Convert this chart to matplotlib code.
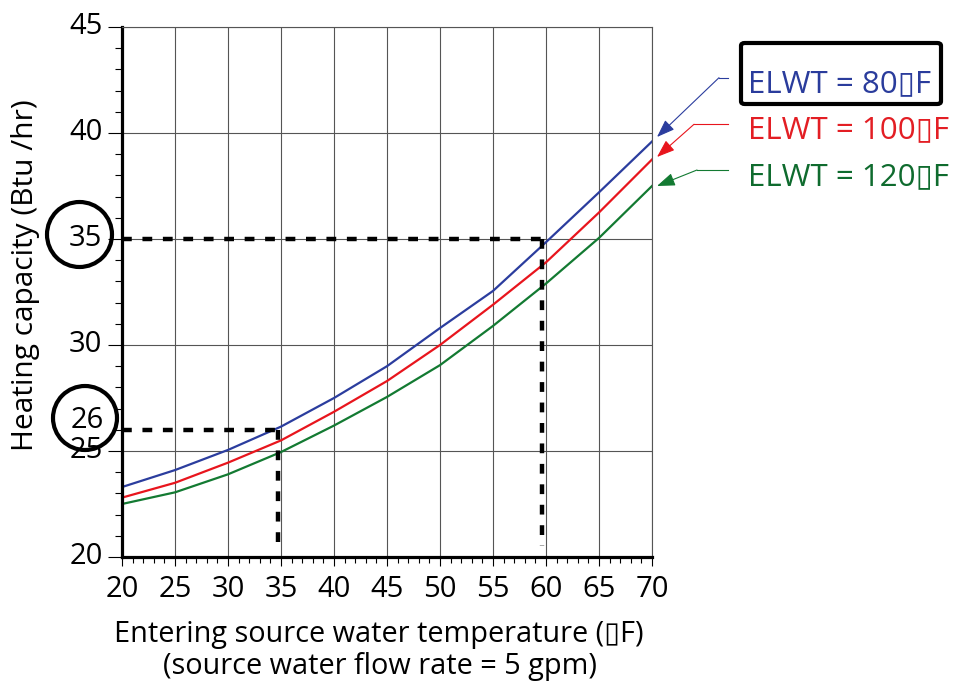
import matplotlib
matplotlib.use('Agg')
import matplotlib.pyplot as plt
from matplotlib.patches import Ellipse, FancyBboxPatch
from matplotlib.transforms import ScaledTranslation

plt.rcParams['font.family'] = ['Open Sans', 'DejaVu Sans']

# data
temps = [20, 25, 30, 35, 40, 45, 50, 55, 60, 65, 70]
cap_80 = [23.3, 24.1, 25.05, 26.15, 27.5, 29.0, 30.8, 32.55, 34.85, 37.2, 39.6]
cap_100 = [22.8, 23.5, 24.45, 25.5, 26.85, 28.3, 30.0, 31.9, 33.9, 36.25, 38.75]
cap_120 = [22.5, 23.05, 23.9, 24.95, 26.2, 27.55, 29.05, 30.9, 32.9, 35.05, 37.5]
labels = ['ELWT = 80\u25afF', 'ELWT = 100\u25afF', 'ELWT = 120\u25afF']
colors = ['#2b3d9e', '#e8151d', '#137a32']
text_colors = ['#2a3c9c', '#e31e24', '#0f6b2e']

# the two worked examples (source temp -> capacity)
example_x = [34.7, 59.6]
example_y = [26, 35]

W, H = 956, 685
fig = plt.figure(figsize=(W / 100, H / 100), dpi=100)
ax = fig.add_axes([122 / W, 128 / H, 530 / W, 530 / H])
ax.set_xlim(20, 70)
ax.set_ylim(20, 45)

ax.set_xticks(range(20, 71, 5))
ax.set_xticks(range(20, 71, 1), minor=True)
ax.set_yticks(range(20, 46, 5))
ax.set_yticks(range(20, 46, 1), minor=True)
ax.grid(which='major', color='#555555', lw=0.8)
ax.set_axisbelow(True)

for s in ['left', 'bottom']:
    ax.spines[s].set_color('black')
    ax.spines[s].set_linewidth(2.3)
for s in ['top', 'right']:
    ax.spines[s].set_color('#555555')
    ax.spines[s].set_linewidth(0.8)

ax.tick_params(axis='y', which='major', length=10, width=0.8, pad=4, labelsize=21)
ax.tick_params(axis='y', which='minor', length=5, width=0.8)
ax.tick_params(axis='x', which='major', length=6.5, width=0.8, pad=6.5, labelsize=21)
ax.tick_params(axis='x', which='minor', length=4.5, width=0.8)
# y labels sit a little above their ticks in the original
for lab in ax.get_yticklabels():
    lab.set_transform(lab.get_transform() + ScaledTranslation(0, 4 / 100, fig.dpi_scale_trans))

for ys, c in zip([cap_80, cap_100, cap_120], colors):
    ax.plot(temps, ys, color=c, lw=1.6)

for ex, ey in zip(example_x, example_y):
    ax.plot([20, ex], [ey, ey], color='black', lw=3.2, dashes=[2.2, 2.4], zorder=3)
    ax.plot([ex, ex], [ey, 20.5], color='black', lw=3.2, dashes=[2.2, 2.4], zorder=3)

# circled values on the y axis
fig.add_artist(Ellipse((79.5 / W, 1 - 234.5 / H), 65 / W, 65 / H,
                       fill=False, ec='black', lw=3))
fig.add_artist(Ellipse((85 / W, 1 - 418 / H), 64 / W, 64 / H,
                       fill=False, ec='black', lw=3))
fig.text(87 / W, 1 - 428 / H, '26', ha='center', va='baseline', fontsize=21)

# axis titles
fig.text(26 / W, 1 - 275 / H, 'Heating capacity (Btu /hr)', rotation=90,
         ha='center', va='center', fontsize=21.5)
fig.text(379 / W, 1 - 642 / H, 'Entering source water temperature (\u25afF)',
         ha='center', va='baseline', fontsize=20.8)
fig.text(380 / W, 1 - 674 / H, '(source water flow rate = 5 gpm)',
         ha='center', va='baseline', fontsize=20.8)

# labels with leader arrows
baselines = [92, 138, 185]
knees = [(719, 77.7), (694, 124.3), (697, 170)]
tips = [(657, 137), (657, 157), (657, 186)]
for lab, tc, c, b, k, t in zip(labels, text_colors, colors, baselines, knees, tips):
    fig.text(748 / W, 1 - b / H, lab, color=tc, fontsize=22.5, va='baseline')
    fig.add_artist(plt.Line2D([k[0] / W, 728 / W], [1 - k[1] / H, 1 - k[1] / H],
                              color=c, lw=0.8))
    ax.annotate('', xy=(t[0], H - t[1]), xycoords='figure pixels',
                xytext=(k[0], H - k[1]), textcoords='figure pixels',
                arrowprops=dict(arrowstyle='-|>,head_length=0.55,head_width=0.2',
                                color=c, lw=0.8, shrinkA=0, shrinkB=0,
                                mutation_scale=20),
                annotation_clip=False)

fig.add_artist(FancyBboxPatch((741 / W, 1 - 104 / H), 200 / W, 61 / H,
                              boxstyle='round,pad=0,rounding_size=0.004',
                              fill=False, ec='black', lw=3))

fig.savefig('out.png', dpi=100, facecolor='white')
